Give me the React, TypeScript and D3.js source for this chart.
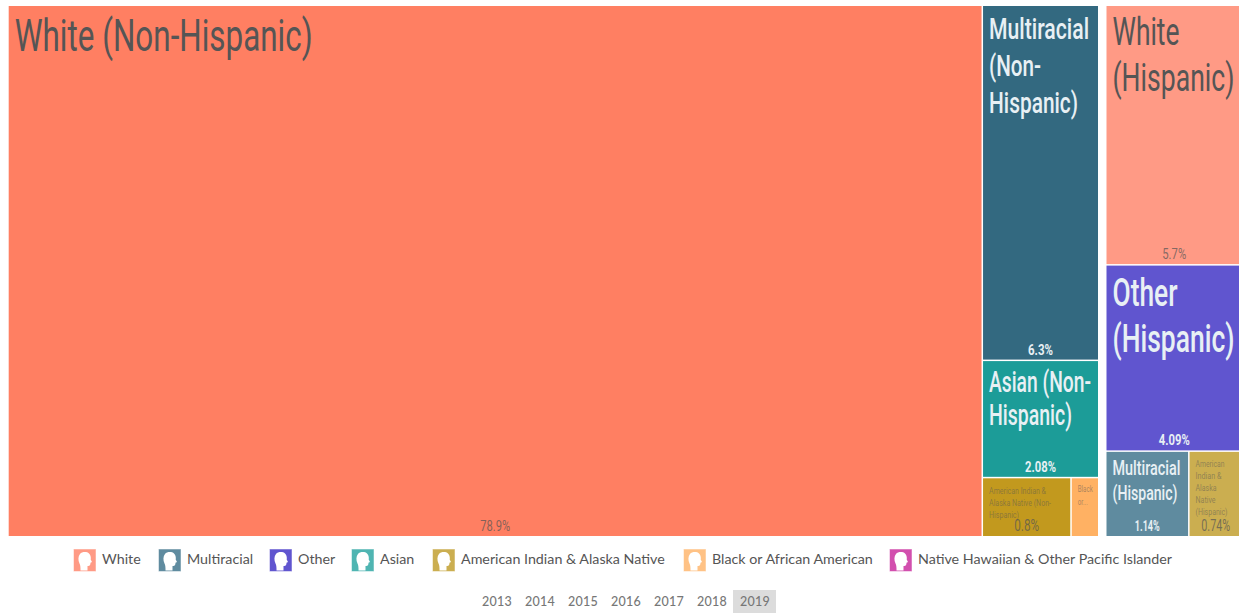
import { useMemo } from "react";
import * as d3 from "d3";

// ── Data ──────────────────────────────────────────────────────
const NON_HISPANIC_LABELS = [
  "White (Non-Hispanic)",
  "Multiracial (Non-Hispanic)",
  "Asian (Non-Hispanic)",
  "American Indian & Alaska Native (Non-Hispanic)",
  "Black or African American (Non-Hispanic)",
];
const NON_HISPANIC_SHARES = [78.9, 6.3, 2.08, 0.8, 0.25];

const HISPANIC_LABELS = [
  "White (Hispanic)",
  "Other (Hispanic)",
  "Multiracial (Hispanic)",
  "American Indian & Alaska Native (Hispanic)",
];
const HISPANIC_SHARES = [5.7, 4.09, 1.14, 0.74];

const LEGEND = [
  "White",
  "Multiracial",
  "Other",
  "Asian",
  "American Indian & Alaska Native",
  "Black or African American",
  "Native Hawaiian & Other Pacific Islander",
];
const YEARS = ["2013", "2014", "2015", "2016", "2017", "2018", "2019"];

// ── Styling ───────────────────────────────────────────────────
const CELL_FILL: Record<string, string> = {
  "White (Non-Hispanic)": "#ff7f62",
  "Multiracial (Non-Hispanic)": "#336980",
  "Asian (Non-Hispanic)": "#1c9c98",
  "American Indian & Alaska Native (Non-Hispanic)": "#c2991e",
  "Black or African American (Non-Hispanic)": "#ffb163",
  "White (Hispanic)": "#ff9a85",
  "Other (Hispanic)": "#6055cf",
  "Multiracial (Hispanic)": "#5f8b9f",
  "American Indian & Alaska Native (Hispanic)": "#cbae50",
};

const LEGEND_FILL = ["#ff9a85", "#5f8b9f", "#6055cf", "#4fb5b2", "#cbae50", "#ffc285", "#d24fae"];
const LEGEND_X = [73, 158, 269, 351, 432, 683, 889];
const YEAR_X = [497, 540, 583, 626, 669, 712, 755];

// Per-cell text: lines, font size, fitted width of each line, first baseline, share label
interface LabelStyle {
  lines: string[];
  size: number;
  widths: number[];
  base: number;
  lineH: number;
  value: string;
  valueSize: number;
  valueW: number;
}
const LABEL_STYLE: Record<string, LabelStyle> = {
  "White (Non-Hispanic)": { lines: ["White (Non-Hispanic)"], size: 45, widths: [298], base: 45, lineH: 46, value: "78.9%", valueSize: 15, valueW: 30 },
  "Multiracial (Non-Hispanic)": { lines: ["Multiracial", "(Non-", "Hispanic)"], size: 30, widths: [100, 52, 89], base: 32.5, lineH: 37, value: "6.3%", valueSize: 14, valueW: 25 },
  "Asian (Non-Hispanic)": { lines: ["Asian (Non-", "Hispanic)"], size: 30, widths: [102, 83], base: 31, lineH: 33, value: "2.08%", valueSize: 14, valueW: 31 },
  "American Indian & Alaska Native (Non-Hispanic)": { lines: ["American Indian &", "Alaska Native (Non-", "Hispanic)"], size: 9, widths: [57, 62, 30], base: 15.5, lineH: 12, value: "0.8%", valueSize: 16, valueW: 25 },
  "Black or African American (Non-Hispanic)": { lines: ["Black", "or..."], size: 9, widths: [15, 10], base: 14, lineH: 13, value: "", valueSize: 0, valueW: 0 },
  "White (Hispanic)": { lines: ["White", "(Hispanic)"], size: 38, widths: [67, 122], base: 39, lineH: 46, value: "5.7%", valueSize: 14, valueW: 24 },
  "Other (Hispanic)": { lines: ["Other", "(Hispanic)"], size: 38, widths: [65, 122], base: 40, lineH: 46, value: "4.09%", valueSize: 14, valueW: 31 },
  "Multiracial (Hispanic)": { lines: ["Multiracial", "(Hispanic)"], size: 21, widths: [68, 65], base: 23, lineH: 25, value: "1.14%", valueSize: 14, valueW: 25 },
  "American Indian & Alaska Native (Hispanic)": { lines: ["American", "Indian &", "Alaska", "Native", "(Hispanic)"], size: 8.5, widths: [29, 26, 21, 20, 32], base: 15, lineH: 12, value: "0.74%", valueSize: 16, valueW: 29 },
};

const DARK_TEXT = "#555";
const CONDENSED = "Roboto, sans-serif";
const SMALL_TEXT = new Set([
  "American Indian & Alaska Native (Non-Hispanic)",
  "Black or African American (Non-Hispanic)",
  "American Indian & Alaska Native (Hispanic)",
]);
const LIGHT_CELLS = new Set([
  "Multiracial (Non-Hispanic)",
  "Asian (Non-Hispanic)",
  "Other (Hispanic)",
  "Multiracial (Hispanic)",
]);

const W = 1239;
const H = 613;
const TOP = 6;
const BOTTOM = 536;

interface Leaf {
  name?: string;
  value?: number;
  kids?: Leaf[];
  dir?: "h" | "v";
}

function tile(node: d3.HierarchyRectangularNode<Leaf>, x0: number, y0: number, x1: number, y1: number) {
  if (node.data.dir === "h") d3.treemapDice(node, x0, y0, x1, y1);
  else d3.treemapSlice(node, x0, y0, x1, y1);
}

function layout(tree: Leaf, x0: number, x1: number) {
  const root = d3.hierarchy<Leaf>(tree, (d) => d.kids).sum((d) => d.value ?? 0);
  return d3
    .treemap<Leaf>()
    .tile(tile as never)
    .paddingInner(1.5)
    .size([x1 - x0, BOTTOM - TOP])(root)
    .leaves()
    .map((l) => ({ name: l.data.name as string, x: l.x0 + x0, y: l.y0 + TOP, w: l.x1 - l.x0, h: l.y1 - l.y0 }));
}

function leaf(labels: string[], shares: number[], i: number): Leaf {
  return { name: labels[i], value: shares[i] };
}

// Squeeze text horizontally to the condensed width seen in the picture
const ctx = document.createElement("canvas").getContext("2d") as CanvasRenderingContext2D;
function squeeze(text: string, size: number, weight: number, width: number) {
  ctx.font = `${weight} ${size}px Roboto`;
  return width / ctx.measureText(text).width;
}

function Cell({ c }: { c: { name: string; x: number; y: number; w: number; h: number } }) {
  const s = LABEL_STYLE[c.name];
  const light = LIGHT_CELLS.has(c.name);
  const small = SMALL_TEXT.has(c.name);
  const color = light ? "#e8f0f4" : DARK_TEXT;
  const weight = light ? 500 : 400;
  const valueWeight = light ? 700 : 400;
  return (
    <g>
      <rect x={c.x} y={c.y} width={c.w} height={c.h} fill={CELL_FILL[c.name]} />
      {s.lines.map((line, i) => (
        <text
          key={line}
          transform={`translate(${c.x + 6},${c.y + s.base + i * s.lineH}) scale(${squeeze(line, s.size, weight, s.widths[i])},1)`}
          fontFamily={CONDENSED}
          fontSize={s.size}
          fontWeight={weight}
          fill={color}
          fillOpacity={small ? 0.5 : 1}
        >
          {line}
        </text>
      ))}
      {s.value && (
        <text
          transform={`translate(${c.x + c.w / 2},${c.y + c.h - 5}) scale(${squeeze(s.value, s.valueSize, valueWeight, s.valueW)},1)`}
          textAnchor="middle"
          fontFamily={CONDENSED}
          fontSize={s.valueSize}
          fontWeight={valueWeight}
          fill={color}
          fillOpacity={light ? 1 : 0.72}
        >
          {s.value}
        </text>
      )}
    </g>
  );
}

export default function App() {
  const cells = useMemo(() => {
    const nh = NON_HISPANIC_LABELS;
    const nv = NON_HISPANIC_SHARES;
    const hl = HISPANIC_LABELS;
    const hv = HISPANIC_SHARES;
    const nonHispanic: Leaf = {
      dir: "h",
      kids: [
        leaf(nh, nv, 0),
        {
          dir: "v",
          kids: [leaf(nh, nv, 1), leaf(nh, nv, 2), { dir: "h", kids: [leaf(nh, nv, 3), leaf(nh, nv, 4)] }],
        },
      ],
    };
    const hispanic: Leaf = {
      dir: "v",
      kids: [leaf(hl, hv, 0), leaf(hl, hv, 1), { dir: "h", kids: [leaf(hl, hv, 2), leaf(hl, hv, 3)] }],
    };
    return [...layout(nonHispanic, 8.7, 1098), ...layout(hispanic, 1106.5, 1242)];
  }, []);

  return (
    <svg
      width={W}
      height={H}
      viewBox={`0 0 ${W} ${H}`}
      style={{ position: "absolute", left: 0, top: 0, background: "#fff" }}
    >
      {cells.map((c) => (
        <Cell key={c.name} c={c} />
      ))}

      {/* Legend */}
      {LEGEND.map((name, i) => (
        <g key={name} transform={`translate(${LEGEND_X[i]},548.5)`}>
          <rect x={0.5} y={0.5} width={22.5} height={22.5} fill={LEGEND_FILL[i]} stroke="#fff" strokeOpacity={0.5} />
          <path
            d="M7.5 22 C7.5 19 7.5 17 6.5 15 C5 12 5 8 7 5.5 C9 3 14 3 16 5 C18 7 18 9.5 17.7 11 L19 13.5 L17.5 14.3 C17.5 16.5 17 17.8 14.5 17.5 L14.5 22 Z"
            fill="#fff"
          />
          <text x={29} y={15.5} fontFamily="Lato, sans-serif" fontSize={14.27} fill="#555">
            {name}
          </text>
        </g>
      ))}

      {/* Year selector */}
      <rect x={733} y={590} width={43} height={23} fill="#dcdcdc" />
      {YEARS.map((y, i) => (
        <text
          key={y}
          x={YEAR_X[i]}
          y={606}
          textAnchor="middle"
          fontFamily="Lato, sans-serif"
          fontSize={12.5}
          fontWeight={500}
          letterSpacing={0.3}
          fill="#777"
        >
          {y}
        </text>
      ))}
    </svg>
  );
}
